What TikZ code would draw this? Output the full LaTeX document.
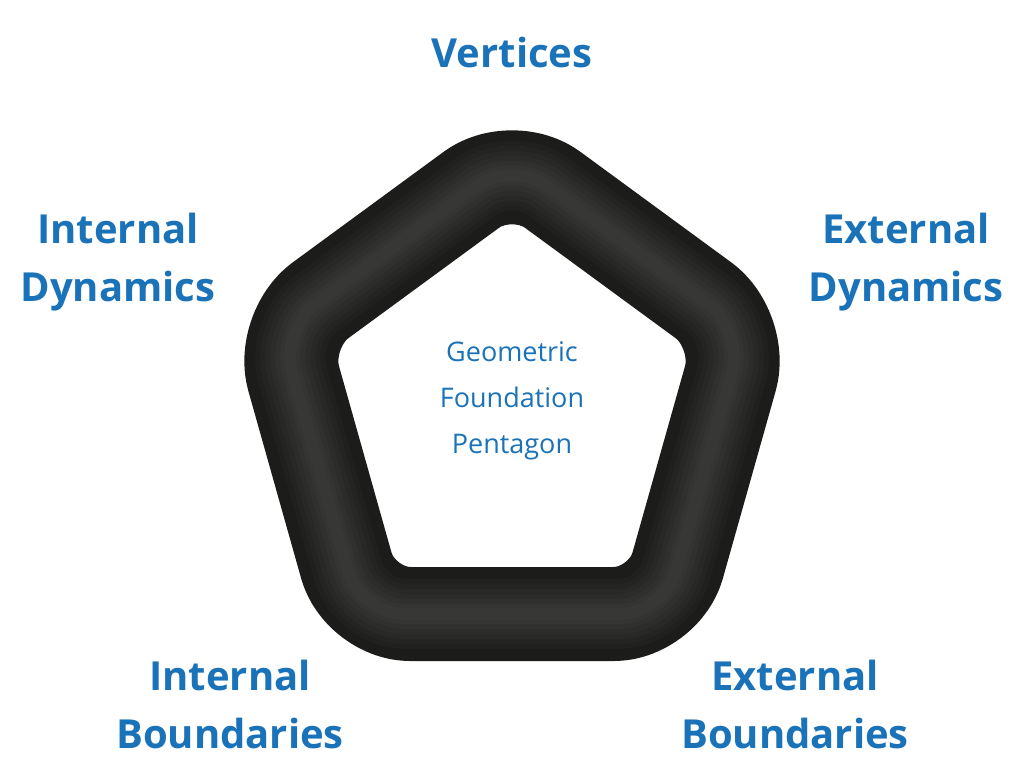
\documentclass[tikz,border=0pt]{standalone}
\usepackage{fontspec}
\setmainfont{Open Sans}
\definecolor{lblue}{HTML}{1A72B8}
\definecolor{ring}{HTML}{1C1C1A}
\begin{document}
\begin{tikzpicture}[x=1pt,y=-1pt,
  lab/.style={text=lblue,font=\fontsize{40}{58}\selectfont\bfseries,align=center},
  mid/.style={text=lblue,font=\fontsize{27}{46}\selectfont,align=center}]
\useasboundingbox (0,0) rectangle (1024,768);
\coordinate (T) at (512,160);
\coordinate (R) at (744,330);
\coordinate (BR) at (664,614);
\coordinate (BL) at (360,614);
\coordinate (L) at (280,330);
\coordinate (S) at (628,245);
\draw[ring,line width=94pt,rounded corners=50pt,line join=round] (S) -- (R) -- (BR) -- (BL) -- (L) -- (T) -- cycle;
\foreach \w in {70,60,50,40,30,20,12} {
\draw[white,opacity=0.018,line width=\w pt,rounded corners=45pt,line join=round] (S) -- (R) -- (BR) -- (BL) -- (L) -- (T) -- cycle;
}
\node[lab] (v) at (512,52) {Vertices};
\node[lab] (id) at (118,262) {Internal\\Dynamics};
\node[lab] (ed) at (906,262) {External\\Dynamics};
\node[lab] (ib) at (230,704) {Internal\\Boundaries};
\node[lab] (eb) at (795,704) {External\\Boundaries};
\node[mid] (c) at (512,401) {Geometric\\Foundation\\Pentagon};
\end{tikzpicture}
\end{document}
